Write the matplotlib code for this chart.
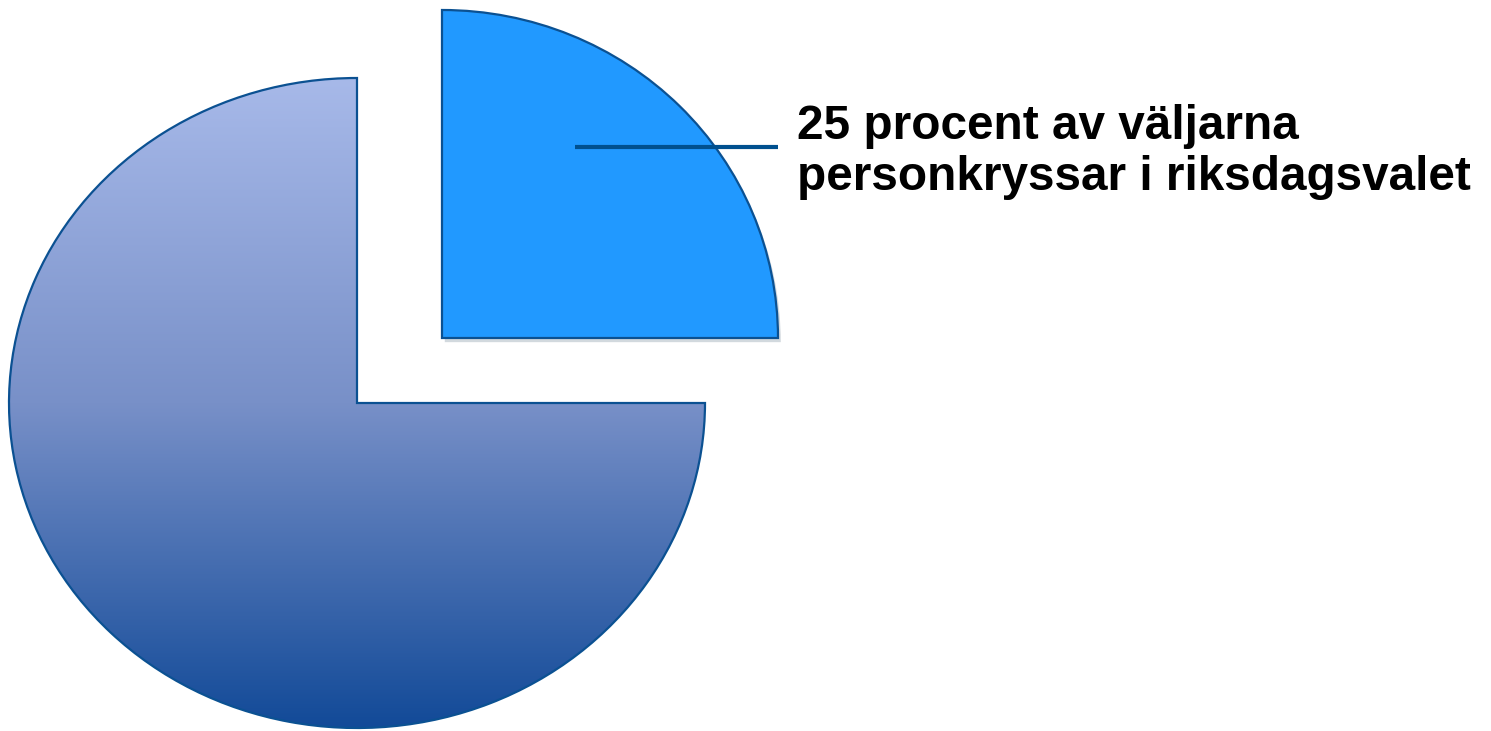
import numpy as np
import matplotlib
matplotlib.use('Agg')
import matplotlib.pyplot as plt
from matplotlib.colors import LinearSegmentedColormap
import matplotlib.patheffects as pe

# data
shares = [25, 75]
label_text = '25 procent av väljarna\npersonkryssar i riksdagsvalet'

# colours
small_col = '#2199FF'
edge_col = '#0B5192'
grad_cols = ['#A7B9E9', '#7890C8', '#124A98']

W, H = 1491, 731

fig = plt.figure(figsize=(W / 100, H / 100), dpi=100)

shadow = [pe.SimplePatchShadow(offset=(2, -3), alpha=0.18), pe.Normal()]

# big slice (75 %) - slightly squashed ellipse
k_big = 348 / 325.0
ax = fig.add_axes([0, 0, 1, 1])
big_c = (357, (H - 403) * k_big)
big_r = 348
w_big, _ = ax.pie([shares[1] / 100], normalize=False, startangle=90,
                  center=big_c, radius=big_r,
                  wedgeprops=dict(facecolor='none', edgecolor=edge_col, linewidth=1.6))

# gradient fill clipped to the big wedge
cmap = LinearSegmentedColormap.from_list('g', grad_cols)
grad = np.linspace(0, 1, 256).reshape(-1, 1)
img = ax.imshow(grad, cmap=cmap, aspect='auto', origin='upper',
                extent=[big_c[0] - big_r, big_c[0] + big_r, big_c[1] - big_r, big_c[1] + big_r],
                zorder=0.5, interpolation='bilinear')
img.set_clip_path(w_big[0])
ax.set_xlim(0, W)
ax.set_ylim(0, H * k_big)
ax.set_aspect('auto')
ax.axis('off')

# small exploded slice (25 %) in its own overlay axes
k_small = 336 / 328.0
ax2 = fig.add_axes([0, 0, 1, 1])
ax2.patch.set_alpha(0)
small_c = (442, (H - 338) * k_small)
small_r = 336
ax2.pie([shares[0] / 100], normalize=False, startangle=0,
        center=small_c, radius=small_r,
        wedgeprops=dict(facecolor=small_col, edgecolor=edge_col, linewidth=1.6,
                        path_effects=shadow))

# label with leader line
ax2.plot([575, 778], [(H - 147) * k_small] * 2, color='#00508F', lw=3.0,
         solid_capstyle='butt', zorder=3)
ax2.text(797, (H - 190) * k_small, label_text, fontsize=34.4, fontweight='bold',
         family='Liberation Sans', ha='left', va='baseline', linespacing=1.18, color='black')

ax2.set_xlim(0, W)
ax2.set_ylim(0, H * k_small)
ax2.set_aspect('auto')
ax2.axis('off')

fig.savefig('out.png', dpi=100, facecolor='white')
